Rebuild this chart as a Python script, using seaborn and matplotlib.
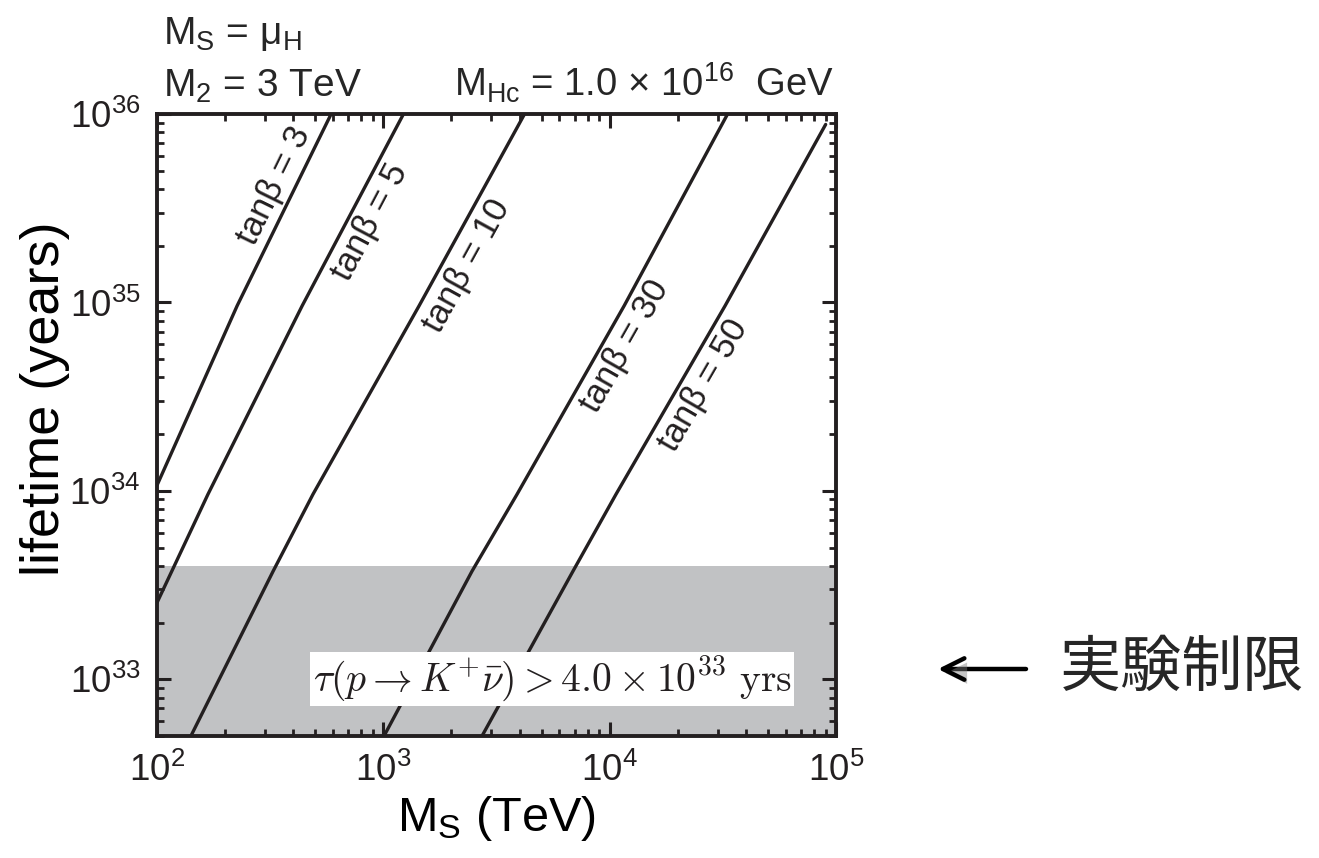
import matplotlib
matplotlib.use("Agg")
import matplotlib.pyplot as plt
import matplotlib.patheffects as pe
from matplotlib.ticker import LogLocator, NullFormatter
import numpy as np
import pandas as pd
import seaborn as sns

# Proton lifetime tau(p -> K+ nu-bar) versus the sfermion mass scale M_S,
# one curve per tan(beta); each pair is (M_S [TeV], lifetime [years]).
tan_beta = [3, 5, 10, 30, 50]
tb3_ms = [100, 226, 588]
tb3_tau = [1.07e34, 9.6e34, 1.0e36]
tb5_ms = [100, 168, 438, 1222]
tb5_tau = [2.55e33, 9.6e33, 9.6e34, 9.9e35]
tb10_ms = [140, 326, 489, 1439, 4188]
tb10_tau = [4.9e32, 3.75e33, 9.6e33, 9.6e34, 9.9e35]
tb30_ms = [998, 2466, 3899, 11590, 33040]
tb30_tau = [4.9e32, 3.75e33, 9.6e33, 9.6e34, 9.9e35]
tb50_ms = [2704, 6887, 10670, 32360, 90000]
tb50_tau = [4.9e32, 3.75e33, 9.6e33, 9.6e34, 8.8e35]

# Super-Kamiokande bound on the K+ nu-bar channel (years)
exp_limit = 4.0e33

x_ticks = [1e2, 1e3, 1e4, 1e5]
y_ticks = [1e33, 1e34, 1e35, 1e36]
x_range = (1e2, 1e5)
y_range = (5e32, 1e36)

# where each tan(beta) label sits (M_S, lifetime)
label_ms = [329, 873, 2345, 11700, 25900]
label_tau = [4.19e35, 2.67e35, 1.57e35, 5.83e34, 3.62e34]

curves_ms = [tb3_ms, tb5_ms, tb10_ms, tb30_ms, tb50_ms]
curves_tau = [tb3_tau, tb5_tau, tb10_tau, tb30_tau, tb50_tau]

frames = []
for tb, ms, tau in zip(tan_beta, curves_ms, curves_tau):
    frames.append(pd.DataFrame({"ms": ms, "tau": tau,
                                "curve": f"tanβ = {tb}"}))
df = pd.concat(frames, ignore_index=True)

sns.set_style("ticks")
plt.rcParams["font.family"] = ["Liberation Sans", "Noto Sans CJK JP", "DejaVu Sans"]
plt.rcParams["mathtext.fontset"] = "custom"
plt.rcParams["mathtext.rm"] = "Liberation Sans"
plt.rcParams["mathtext.it"] = "Liberation Sans:italic"
plt.rcParams["mathtext.bf"] = "Liberation Sans:bold"

ink = "#231f20"
band = "#c1c2c4"

W, H = 1319, 858
fig = plt.figure(figsize=(W / 100, H / 100), dpi=100)
ax = fig.add_axes([157 / W, 1 - 736 / H, (836 - 157) / W, (736 - 114) / H])

ax.axhspan(y_range[0], exp_limit, color=band, lw=0, zorder=0.5)

palette = {f"tanβ = {tb}": ink for tb in tan_beta}
sns.lineplot(data=df, x="ms", y="tau", hue="curve", palette=palette,
             estimator=None, sort=False, legend=False, linewidth=2.4, ax=ax)

ax.set_xscale("log")
ax.set_yscale("log")
ax.set_xlim(*x_range)
ax.set_ylim(*y_range)
ax.set_xticks(x_ticks)
ax.set_yticks(y_ticks)
ax.xaxis.set_minor_locator(LogLocator(base=10, subs=np.arange(2, 10)))
ax.yaxis.set_minor_locator(LogLocator(base=10, subs=np.arange(2, 10)))
ax.xaxis.set_minor_formatter(NullFormatter())
ax.yaxis.set_minor_formatter(NullFormatter())

ax.tick_params(which="both", direction="in", top=True, right=True,
               colors=ink, labelcolor=ink)
ax.tick_params(which="major", length=10, width=2.2, labelsize=26.5)
ax.tick_params(axis="x", which="major", pad=12)
ax.tick_params(axis="y", which="major", pad=12)
ax.tick_params(which="minor", length=5, width=2.0)
for s in ax.spines.values():
    s.set_linewidth(2.8)
    s.set_color(ink)
    s.set_zorder(5)

ax.set_xlabel(r"M$_\mathrm{S}$ (TeV)", fontsize=35, color="black")
ax.set_ylabel("lifetime (years)", fontsize=39, color="black",
              ha="center", va="center")
ax.xaxis.set_label_coords(0.5, -0.094)
ax.yaxis.set_label_coords(-0.165, 0.542)

# tan(beta) labels laid along their curves
fig.canvas.draw()
for tb, ms, tau, lx, ly in zip(tan_beta, curves_ms, curves_tau, label_ms, label_tau):
    pts = ax.transData.transform(np.column_stack([ms, tau]))
    i = int(np.clip(np.searchsorted(np.array(tau), ly), 1, len(tau) - 1))
    dx, dy = pts[i] - pts[i - 1]
    angle = np.degrees(np.arctan2(dy, dx))
    ax.text(lx, ly, f"tanβ = {tb}", rotation=angle, rotation_mode="anchor",
            ha="center", va="center", fontsize=25, color=ink, zorder=4)

ax.text(0.582, 0.092,
        r"$\tau(p \rightarrow K^{+}\bar{\nu}) > 4.0 \times 10^{33}\ \mathrm{yrs}$",
        transform=ax.transAxes, ha="center", va="center", fontsize=28.5,
        math_fontfamily="cm", color=ink, zorder=4,
        bbox=dict(facecolor="white", edgecolor="none",
                  boxstyle="square,pad=0.07"))

# parameter annotations above the frame
fig.text(163 / W, 1 - 44 / H, r"M$_\mathrm{S}$ = μ$_\mathrm{H}$",
         fontsize=28, ha="left", va="baseline")
fig.text(163 / W, 1 - 97 / H, r"M$_\mathrm{2}$ = 3 TeV",
         fontsize=28, ha="left", va="baseline")
fig.text(834 / W, 1 - 97 / H,
         r"M$_\mathrm{Hc}$ = 1.0 × 10$^{\mathrm{16}}$  GeV",
         fontsize=27.5, ha="right", va="baseline")

# pointer to the experimental bound
arr = ax.annotate("", xy=(938, 858 - 669), xytext=(1026, 858 - 669),
                  xycoords="figure pixels", textcoords="figure pixels",
                  annotation_clip=False,
                  arrowprops=dict(arrowstyle="->,head_length=0.7,head_width=0.35",
                                  lw=3.2, color="black", mutation_scale=22,
                                  shrinkA=0, shrinkB=0))
arr.arrow_patch.set_path_effects([
    pe.SimplePatchShadow(offset=(2, -3), shadow_rgbFace="0.5", alpha=0.45),
    pe.Normal()])
fig.text(1060 / W, 1 - 669 / H, "実験制限", fontsize=44,
         family=["Noto Sans CJK JP", "DejaVu Sans"], ha="left", va="center")

fig.savefig("out.png", dpi=100)
